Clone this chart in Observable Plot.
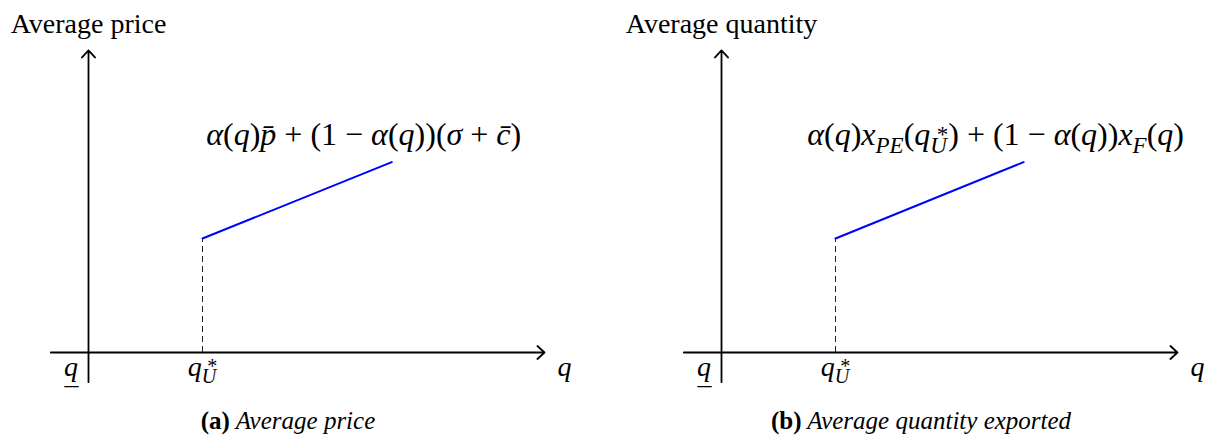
<!DOCTYPE html>
<html>
<head>
<meta charset="utf-8">
<script src="https://cdn.jsdelivr.net/npm/d3@7"></script>
<script src="https://cdn.jsdelivr.net/npm/@observablehq/plot@0.6"></script>
<style>
  html, body { margin: 0; padding: 0; background: #fff; overflow: hidden; }
  #figure { display: flex; width: 1207px; height: 439px; }
  #figure svg { overflow: visible; background: #fff; }
  #figure svg text { font-family: "Liberation Serif", "Times New Roman", serif; }
</style>
</head>
<body>
<div id="figure"></div>
<script>
// Panel headings and captions
const panelTitles = ["Average price", "Average quantity"];
const panelTags = ["(a)", "(b)"];
const panelCaptions = ["Average price", "Average quantity exported"];

// Axis extents in model units (q horizontally, level vertically)
const qAxisFrom = -0.33, qAxisTo = 4.0;
const levelAxisFrom = -0.26, levelAxisTo = 2.65;

// Lower bound q and the threshold q*_U
const qLower = 0;
const qThreshold = 1;

// Blue segments above the threshold
const priceSegmentQ = [1, 2.66];
const priceSegmentLevel = [1, 1.67];
const quantitySegmentQ = [1, 2.65];
const quantitySegmentLevel = [1, 1.67];

// Rich-text pieces for the math labels
const I = (t) => ({t, it: true});
const R = (t) => ({t});
const SUB = (t) => ({t, it: true, size: 0.72, shift: 0.26});
const SUP = (t) => ({t, size: 0.72, shift: -0.1, stack: true, kern: 0.2});

const priceFormula = [I("α"), R("("), I("q"), R(")"), I("p̄"), R(" + (1 − "), I("α"), R("("), I("q"),
  R("))("), I("σ"), R(" + "), I("c̄"), R(")")];
const quantityFormula = [I("α"), R("("), I("q"), R(")"), I("x"), SUB("PE"), R("("), I("q"), SUB("U"), SUP("*"),
  R(") + (1 − "), I("α"), R("("), I("q"), R("))"), I("x"), SUB("F"), R("("), I("q"), R(")")];
const thresholdLabel = [I("q"), SUB("U"), SUP("*")];
// underlined q: an underscore set beneath the letter's descender
const lowerLabel = [I("q"), {t: "_", shift: 0.3, stack: true, kern: 0.02}];
const axisLabel = [I("q")];
const captionLabel = (tag, text) => [{t: tag, bold: true}, {t: " " + text, it: true}];

const plain = (segs) => segs.map((s) => s.t).join("");
const serif = "Liberation Serif";
const svgNS = "http://www.w3.org/2000/svg";

function panel({title, caption, formula, segQ, segLevel, width, xRange}) {
  const segment = segQ.map((q, i) => ({q, level: segLevel[i]}));
  const end = segment[segment.length - 1];
  const axes = [
    {x1: qAxisFrom, y1: 0, x2: qAxisTo, y2: 0},
    {x1: qLower, y1: levelAxisFrom, x2: qLower, y2: levelAxisTo}
  ];
  const txt = {x: "q", y: "level", text: "label", lineAnchor: "bottom", fontFamily: serif, fill: "black"};
  return Plot.plot({
    width, height: 439, margin: 0,
    style: {background: "white", fontFamily: serif},
    x: {axis: null, domain: [0, 1], range: xRange},
    y: {axis: null, domain: [0, 1], range: [352, 238]},
    marks: [
      Plot.ruleX([qThreshold], {y1: 0, y2: segLevel[0], stroke: "#222", strokeWidth: 1, strokeDasharray: "6,4"}),
      Plot.arrow(axes, {x1: "x1", y1: "y1", x2: "x2", y2: "y2", stroke: "black", strokeWidth: 1.8,
        headLength: 8, headAngle: 85}),
      Plot.line(segment, {x: "q", y: "level", stroke: "blue", strokeWidth: 2}),
      Plot.text([{q: qLower, level: levelAxisTo, label: title}], {...txt, fontSize: 28, dy: -17}),
      Plot.text([{q: end.q, level: end.level, label: plain(formula)}], {...txt, fontSize: 32, dx: -28, dy: -17}),
      Plot.text([{q: qLower, level: 0, label: plain(lowerLabel)}], {...txt, fontSize: 28, textAnchor: "end", dx: -10, dy: 23}),
      Plot.text([{q: qThreshold, level: 0, label: plain(thresholdLabel)}], {...txt, fontSize: 28, dy: 23}),
      Plot.text([{q: qAxisTo, level: 0, label: plain(axisLabel)}], {...txt, fontSize: 28, dx: 20, dy: 23}),
      Plot.text([{q: 1.75, level: levelAxisFrom, label: plain(caption)}], {...txt, fontSize: 25, dy: 47})
    ]
  });
}

// Turn matching plain labels into styled tspans (italics, sub/superscripts)
function applyRich(svg, defs) {
  const byText = new Map(defs.map((s) => [plain(s), s]));
  svg.querySelectorAll("text").forEach((node) => {
    const segs = byText.get(node.textContent);
    if (!segs) return;
    const base = parseFloat(getComputedStyle(node).fontSize);
    node.textContent = "";
    let offset = 0, prev = null, pending = 0;
    for (const s of segs) {
      const ts = document.createElementNS(svgNS, "tspan");
      ts.textContent = s.t;
      if (s.it) ts.setAttribute("font-style", "italic");
      if (s.bold) ts.setAttribute("font-weight", "bold");
      if (s.size) ts.setAttribute("font-size", base * s.size);
      const shift = (s.shift || 0) * base;
      if (shift !== offset) ts.setAttribute("dy", shift - offset);
      offset = shift;
      node.appendChild(ts);
      if (s.stack && prev) {
        const wPrev = prev.getComputedTextLength();
        const k = (s.kern || 0) * base;
        ts.setAttribute("dx", -wPrev + k);
        const w = ts.getComputedTextLength();
        pending = Math.max(0, wPrev - (k + w));
      } else if (pending) {
        ts.setAttribute("dx", pending);
        pending = 0;
      }
      prev = ts;
    }
  });
}

const figure = document.getElementById("figure");
const configs = [
  {title: panelTitles[0], caption: captionLabel(panelTags[0], panelCaptions[0]), formula: priceFormula,
    segQ: priceSegmentQ, segLevel: priceSegmentLevel, width: 603, xRange: [88, 202]},
  {title: panelTitles[1], caption: captionLabel(panelTags[1], panelCaptions[1]), formula: quantityFormula,
    segQ: quantitySegmentQ, segLevel: quantitySegmentLevel, width: 604, xRange: [118, 232]}
];
for (const c of configs) {
  const svg = panel(c);
  figure.appendChild(svg);
  applyRich(svg, [c.formula, c.caption, thresholdLabel, lowerLabel, axisLabel]);
}
</script>
</body>
</html>
